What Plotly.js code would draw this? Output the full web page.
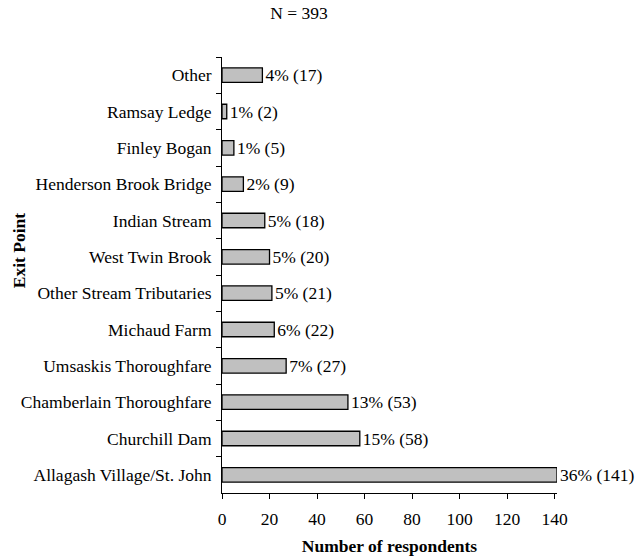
<!DOCTYPE html>
<html>
<head>
<meta charset="utf-8">
<script src="https://cdn.plot.ly/plotly-3.0.1.min.js"></script>
<style>
  html, body { margin: 0; padding: 0; background: #fff; }
  #chart { width: 640px; height: 556px; }
</style>
</head>
<body>
<div id="chart"></div>
<script>
// Exit points, listed from top to bottom
const exitPoints = [
  "Other",
  "Ramsay Ledge",
  "Finley Bogan",
  "Henderson Brook Bridge",
  "Indian Stream",
  "West Twin Brook",
  "Other Stream Tributaries",
  "Michaud Farm",
  "Umsaskis Thoroughfare",
  "Chamberlain Thoroughfare",
  "Churchill Dam",
  "Allagash Village/St. John"
];
const respondents = [17, 2, 5, 9, 18, 20, 21, 22, 27, 53, 58, 141];
const percents = [4, 1, 1, 2, 5, 5, 5, 6, 7, 13, 15, 36];
const totalN = 393;

const labels = respondents.map((n, i) => percents[i] + "% (" + n + ")");

const serif = "Liberation Serif";
const fs = 17.5;

const trace = {
  type: "bar",
  orientation: "h",
  x: respondents,
  y: exitPoints,
  text: labels,
  textposition: "outside",
  constraintext: "none",
  cliponaxis: false,
  textfont: { family: serif, size: fs, color: "#000" },
  outsidetextfont: { family: serif, size: fs, color: "#000" },
  marker: { color: "#c0c0c0", line: { color: "#000", width: 1.3 } },
  width: 0.4,
  hoverinfo: "x+y"
};

const layout = {
  width: 640,
  height: 556,
  margin: { l: 222, r: 83, t: 57, b: 63 },
  paper_bgcolor: "#fff",
  plot_bgcolor: "#fff",
  showlegend: false,
  font: { family: serif, size: fs, color: "#000" },
  title: {
    text: "N = " + totalN,
    font: { family: serif, size: fs, color: "#000" },
    x: 299 / 640, xanchor: "center",
    y: 0.988, yanchor: "top"
  },
  xaxis: {
    range: [0, 141],
    tickvals: [0, 20, 40, 60, 80, 100, 120, 140],
    showgrid: false,
    zeroline: false,
    showline: true,
    linecolor: "#000",
    linewidth: 1,
    ticks: "outside",
    ticklen: 5,
    tickcolor: "#000",
    ticklabelstandoff: 5,
    tickfont: { family: serif, size: fs, color: "#000" },
    title: {
      text: "<b>Number of respondents</b>",
      font: { family: serif, size: fs, color: "#000" },
      standoff: 12
    }
  },
  yaxis: {
    autorange: "reversed",
    type: "category",
    showgrid: false,
    zeroline: false,
    showline: true,
    linecolor: "#000",
    linewidth: 1,
    ticks: "outside",
    tickson: "boundaries",
    ticklen: 5,
    tickcolor: "#000",
    ticklabelstandoff: 6,
    tickfont: { family: serif, size: fs, color: "#000" }
  },
  // Vertical axis title, placed beside the category labels
  annotations: [{
    text: "<b>Exit Point</b>",
    textangle: -90,
    xref: "paper", yref: "paper",
    x: (19 - 222) / 335, xanchor: "center",
    y: (492.5 - 250) / 435.5, yanchor: "middle",
    showarrow: false,
    font: { family: serif, size: fs, color: "#000" }
  }]
};

Plotly.newPlot("chart", [trace], layout, { staticPlot: true, displayModeBar: false });
</script>
</body>
</html>
